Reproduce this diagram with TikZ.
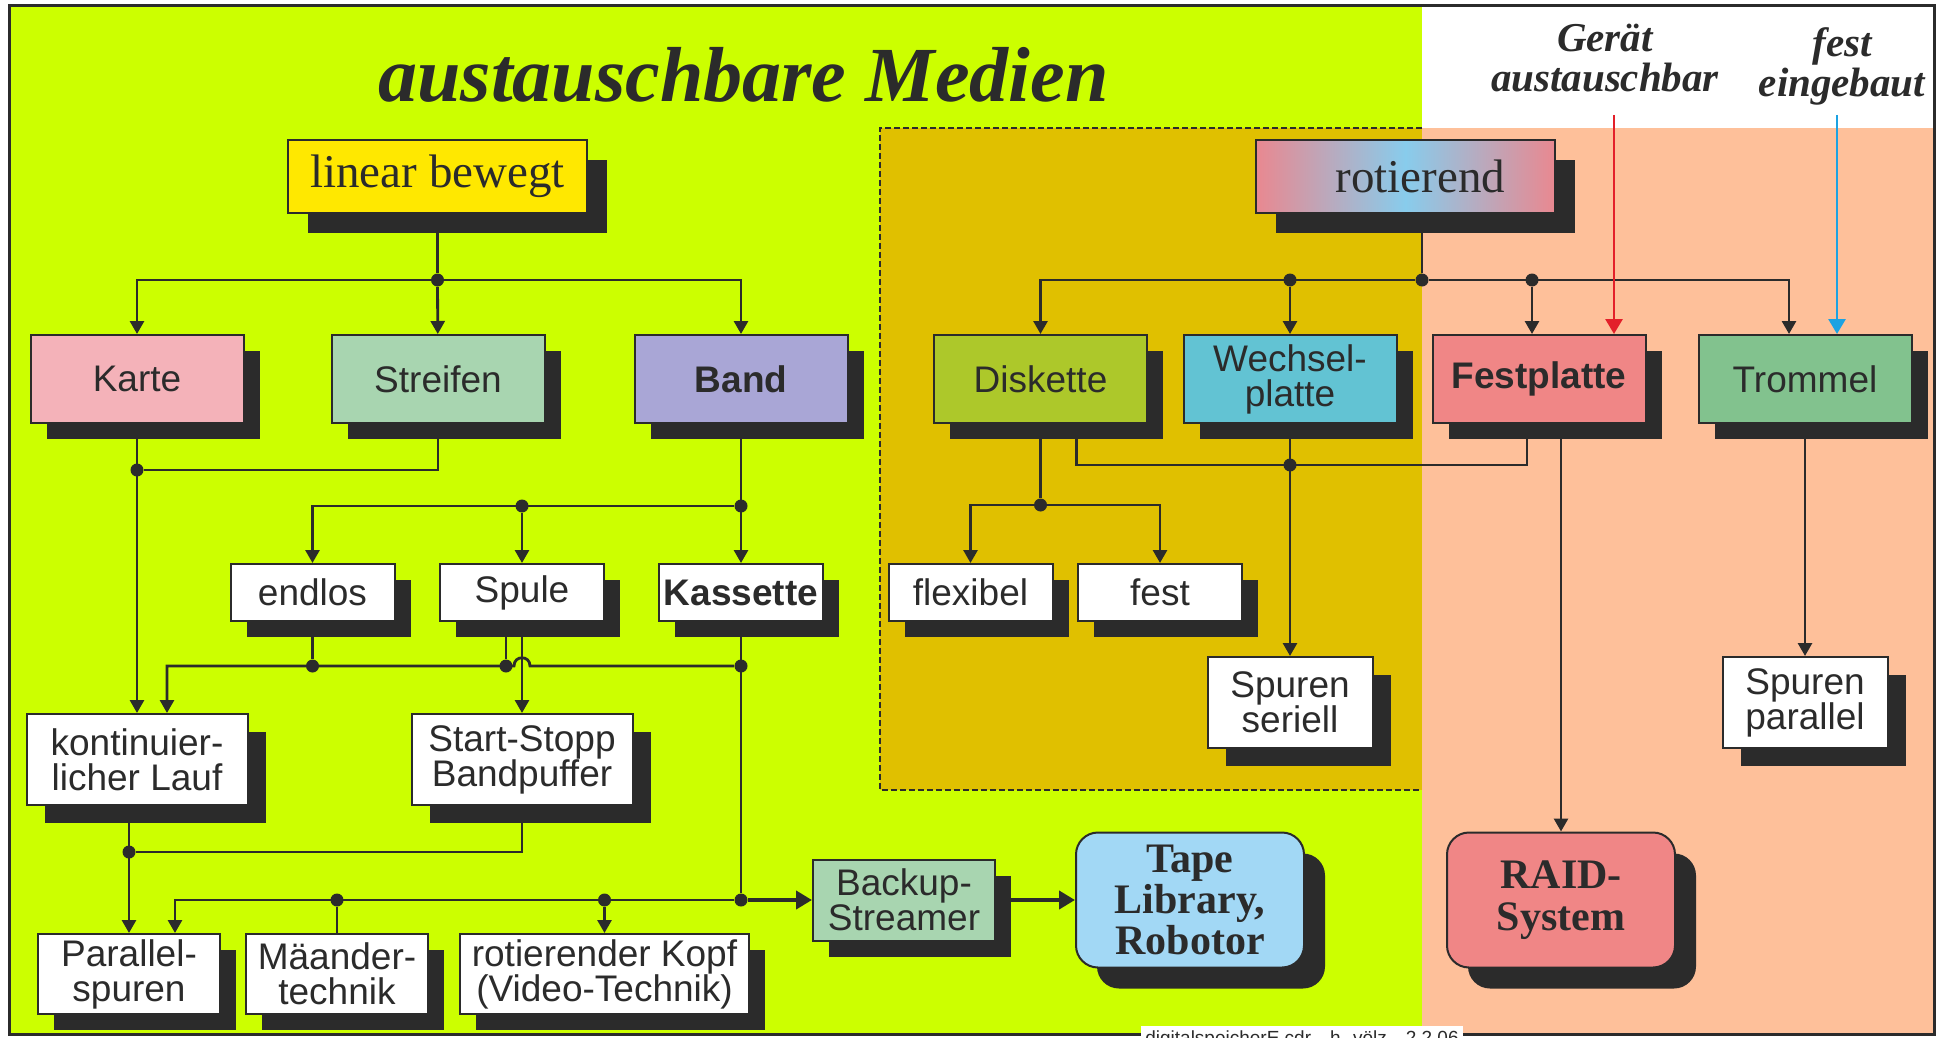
\documentclass[tikz,border=0pt]{standalone}
\usepackage{fontspec}
\setmainfont{Liberation Serif}
\setsansfont{Liberation Sans}
\usetikzlibrary{arrows.meta,shadows}

\definecolor{linie}{HTML}{2B2B2B}
\definecolor{gelbgruen}{HTML}{CCFF00}
\definecolor{ocker}{HTML}{E0C000}
\definecolor{lachs}{HTML}{FEC09A}
\definecolor{gelb}{HTML}{FFE800}
\definecolor{rosa}{HTML}{F4B2B9}
\definecolor{mint}{HTML}{A8D5B0}
\definecolor{lila}{HTML}{A9A6D6}
\definecolor{oliv}{HTML}{ADC82A}
\definecolor{tuerkis}{HTML}{62C3D3}
\definecolor{hellrot}{HTML}{F08686}
\definecolor{gruen}{HTML}{82C28E}
\definecolor{hellblau}{HTML}{A2D8F5}
\definecolor{rotpfeil}{HTML}{E3202A}
\definecolor{blaupfeil}{HTML}{1CA2E2}
\definecolor{rotrosa}{HTML}{E98890}
\definecolor{rotblau}{HTML}{88CCEC}

\tikzset{
    schatten/.style={drop shadow={shadow xshift=#1, shadow yshift=-#1, fill=linie, opacity=1}},
    schatten/.default=8pt,
    box/.style={draw=linie, line width=1pt, fill=white, inner sep=0pt, align=center,
        text=linie, font=\sffamily\fontsize{18.5}{17.5}\selectfont},
    mittel/.style={box, schatten, minimum width=106.5pt, minimum height=44pt},
    klein/.style={box, schatten, minimum width=82pt, minimum height=28.5pt},
    zweizeilig/.style={box, schatten=9pt, minimum height=45.5pt},
    unten/.style={box, schatten, minimum height=40pt},
    kopfbox/.style={box, schatten=10pt, minimum width=149.5pt, minimum height=36.5pt,
        font=\rmfamily\fontsize{23.5}{28}\selectfont},
    rundbox/.style={box, schatten=10.5pt, rounded corners=11pt, minimum width=114pt,
        minimum height=67.5pt, font=\rmfamily\bfseries\fontsize{21}{20.7}\selectfont},
    titel/.style={text=linie, font=\rmfamily\bfseries\itshape\fontsize{39}{44}\selectfont},
    untertitel/.style={text=linie, align=center,
        font=\rmfamily\bfseries\itshape\fontsize{20.5}{20}\selectfont},
    junction/.style={circle, fill=linie, inner sep=0pt, minimum size=6.5pt},
    conn/.style={draw=linie, line width=1.4pt},
    arr/.style={conn, -{Triangle[length=6.5pt, width=7pt]}},
    dickarr/.style={draw=linie, line width=2pt, -{Triangle[length=8pt, width=9pt]}},
}

\begin{document}
\begin{tikzpicture}[x=0.5pt, y=-0.5pt]
    \useasboundingbox (0,0) rectangle (1939,1038);
    % Flaechen
    \fill[white] (0,0) rectangle (1939,1038);
    \fill[gelbgruen] (9,6) rectangle (1934,1034);
    \fill[white] (1422,6) rectangle (1934,128);
    \fill[lachs] (1422,128) rectangle (1934,1034);
    \fill[ocker] (880,128) rectangle (1422,790);
    \draw[linie, line width=1.2pt, dash pattern=on 3pt off 1.5pt] (1422,128) -- (880,128) -- (880,790) -- (1422,790);
    \draw[linie, line width=1.5pt] (9,6) rectangle (1934,1034);

    % Ueberschriften
    \node[titel, anchor=base] (titel) at (743.5,102) {austauschbare Medien};
    \node[untertitel] (geraet) at (1605,58) {Gerät\\austauschbar};
    \node[untertitel] (eingebaut) at (1842,66) {fest\\eingebaut};

    % Kaesten
    \node[kopfbox, fill=gelb] (linear) at (437.5,176.5) {linear bewegt};
    \node[kopfbox, left color=rotrosa, right color=rotrosa, middle color=rotblau] (rotierend) at (1405.5,176.5) {\hspace*{15pt}rotierend};

    \node[mittel, fill=rosa] (karte) at (137,379) {Karte};
    \node[mittel, fill=mint] (streifen) at (438,379) {Streifen};
    \node[mittel, fill=lila] (band) at (741,379) {\textbf{Band}};
    \node[mittel, fill=oliv] (diskette) at (1040.5,379) {Diskette};
    \node[mittel, fill=tuerkis] (wechsel) at (1290,379) {Wechsel-\\platte};
    \node[mittel, fill=hellrot] (festplatte) at (1539,379) {\textbf{Festplatte}};
    \node[mittel, fill=gruen] (trommel) at (1805,379) {Trommel};

    \node[klein] (endlos) at (312.5,592.5) {endlos};
    \node[klein] (spule) at (522,592.5) {Spule};
    \node[klein] (kassette) at (741,592.5) {\textbf{Kassette}};
    \node[klein] (flexibel) at (970.5,592.5) {flexibel};
    \node[klein] (fest) at (1160,592.5) {fest};

    \node[zweizeilig, minimum width=82.5pt] (seriell) at (1290,702.5) {Spuren\\seriell};
    \node[zweizeilig, minimum width=82.5pt] (parallel) at (1805,702.5) {Spuren\\parallel};
    \node[zweizeilig, minimum width=110.5pt] (lauf) at (137,759.5) {kontinuier-\\licher Lauf};
    \node[zweizeilig, minimum width=110.5pt] (startstopp) at (522,759.5) {Start-Stopp\\Bandpuffer};

    \node[unten, minimum width=91pt] (parallelspuren) at (129,974) {Parallel-\\spuren};
    \node[unten, minimum width=91pt] (maeander) at (337,974) {Mäander-\\technik};
    \node[unten, minimum width=144.5pt] (rotkopf) at (604.5,974) {rotierender Kopf\\(Video-Technik)};
    \node[unten, minimum width=91pt, minimum height=40.5pt, fill=mint] (backup) at (904,900) {Backup-\\Streamer};

    \node[rundbox, fill=hellblau] (library) at (1190,900) {Tape\\Library,\\Robotor};
    \node[rundbox, fill=hellrot] (raid) at (1561,900) {RAID-\\System};

    % Verzweigungen
    \node[junction] (jlin) at (437.5,280) {};
    \node[junction] (jks) at (137,470) {};
    \node[junction] (jband) at (741,506) {};
    \node[junction] (jspule) at (522,506) {};
    \node[junction] (jend) at (312.5,666) {};
    \node[junction] (jsp) at (506,666) {};
    \node[junction] (jkas) at (741,666) {};
    \node[junction] (jlauf) at (129,852) {};
    \node[junction] (jmae) at (337,900) {};
    \node[junction] (jkopf) at (604.5,900) {};
    \node[junction] (jbot) at (741,900) {};
    \node[junction] (jrot) at (1422,280) {};
    \node[junction] (jwech) at (1290,280) {};
    \node[junction] (jfest) at (1532,280) {};
    \node[junction] (jdisk) at (1040.5,505) {};
    \node[junction] (jwech2) at (1290,465) {};
    \coordinate (hop) at (522,666);
    \coordinate (links) at (167,666);
    \coordinate (rottop) at (1614,115);
    \coordinate (blautop) at (1837,115);

    % linear bewegt
    \draw[conn] (linear) -- (jlin);
    \draw[arr] (jlin) -| (karte);
    \draw[arr] (jlin) -- (streifen);
    \draw[arr] (jlin) -| (band);
    \draw[arr] (karte) -- (lauf);
    \draw[conn] (streifen) |- (jks);
    \draw[arr] (band) -- (kassette);
    \draw[arr] (jband) -| (endlos);
    \draw[arr] (jspule) -- (spule);
    \draw[conn] (endlos) -- (jend);
    \draw[conn] ([xshift=-8pt]spule.south) -- (jsp);
    \draw[conn] (kassette) -- (jbot);
    \draw[arr] (jkas) -- ([xshift=4pt]hop) .. controls +(0,-11) and +(0,-11) .. ([xshift=-4pt]hop) -- (links) -- (links |- lauf.north);
    \draw[arr] (spule) -- (startstopp);
    \draw[arr] (parallelspuren |- lauf.south) -- (parallelspuren);
    \draw[conn] (startstopp) |- (jlauf);
    \draw[arr] (jbot) -| ([xshift=23pt]parallelspuren.north);
    \draw[conn] (jmae) -- (maeander);
    \draw[arr] (jkopf) -- (rotkopf);
    \draw[dickarr] (jbot) -- (backup);
    \draw[dickarr] (backup) -- (library);

    % rotierend
    \draw[conn] (rotierend.south -| jrot) -- (jrot);
    \draw[arr] (jrot) -| (diskette);
    \draw[arr] (jwech) -- (wechsel);
    \draw[arr] (jfest) -- (jfest |- festplatte.north);
    \draw[arr] (jrot) -| ([xshift=-8pt]trommel.north);
    \draw[conn, draw=rotpfeil, -{Triangle[length=7.5pt, width=8.5pt]}] (rottop) -- (rottop |- festplatte.north);
    \draw[conn, draw=blaupfeil, -{Triangle[length=7.5pt, width=8.5pt]}] (blautop) -- (blautop |- trommel.north);
    \draw[conn] (diskette) -- (jdisk);
    \draw[arr] (jdisk) -| (flexibel);
    \draw[arr] (jdisk) -| (fest);
    \draw[conn] ([xshift=18pt]diskette.south) |- ([xshift=-6pt]festplatte.south |- jwech2) -- ([xshift=-6pt]festplatte.south);
    \draw[arr] (wechsel) -- (seriell);
    \draw[arr] (raid |- festplatte.south) -- (raid);
    \draw[arr] (trommel) -- (parallel);

    \node[fill=white, inner sep=2pt, text=linie, font=\sffamily\fontsize{9.5}{11}\selectfont, anchor=base] (fuss) at (1302,1044) {digitalspeicherE.cdr\quad h. völz\quad 2.2.06};
\end{tikzpicture}
\end{document}
